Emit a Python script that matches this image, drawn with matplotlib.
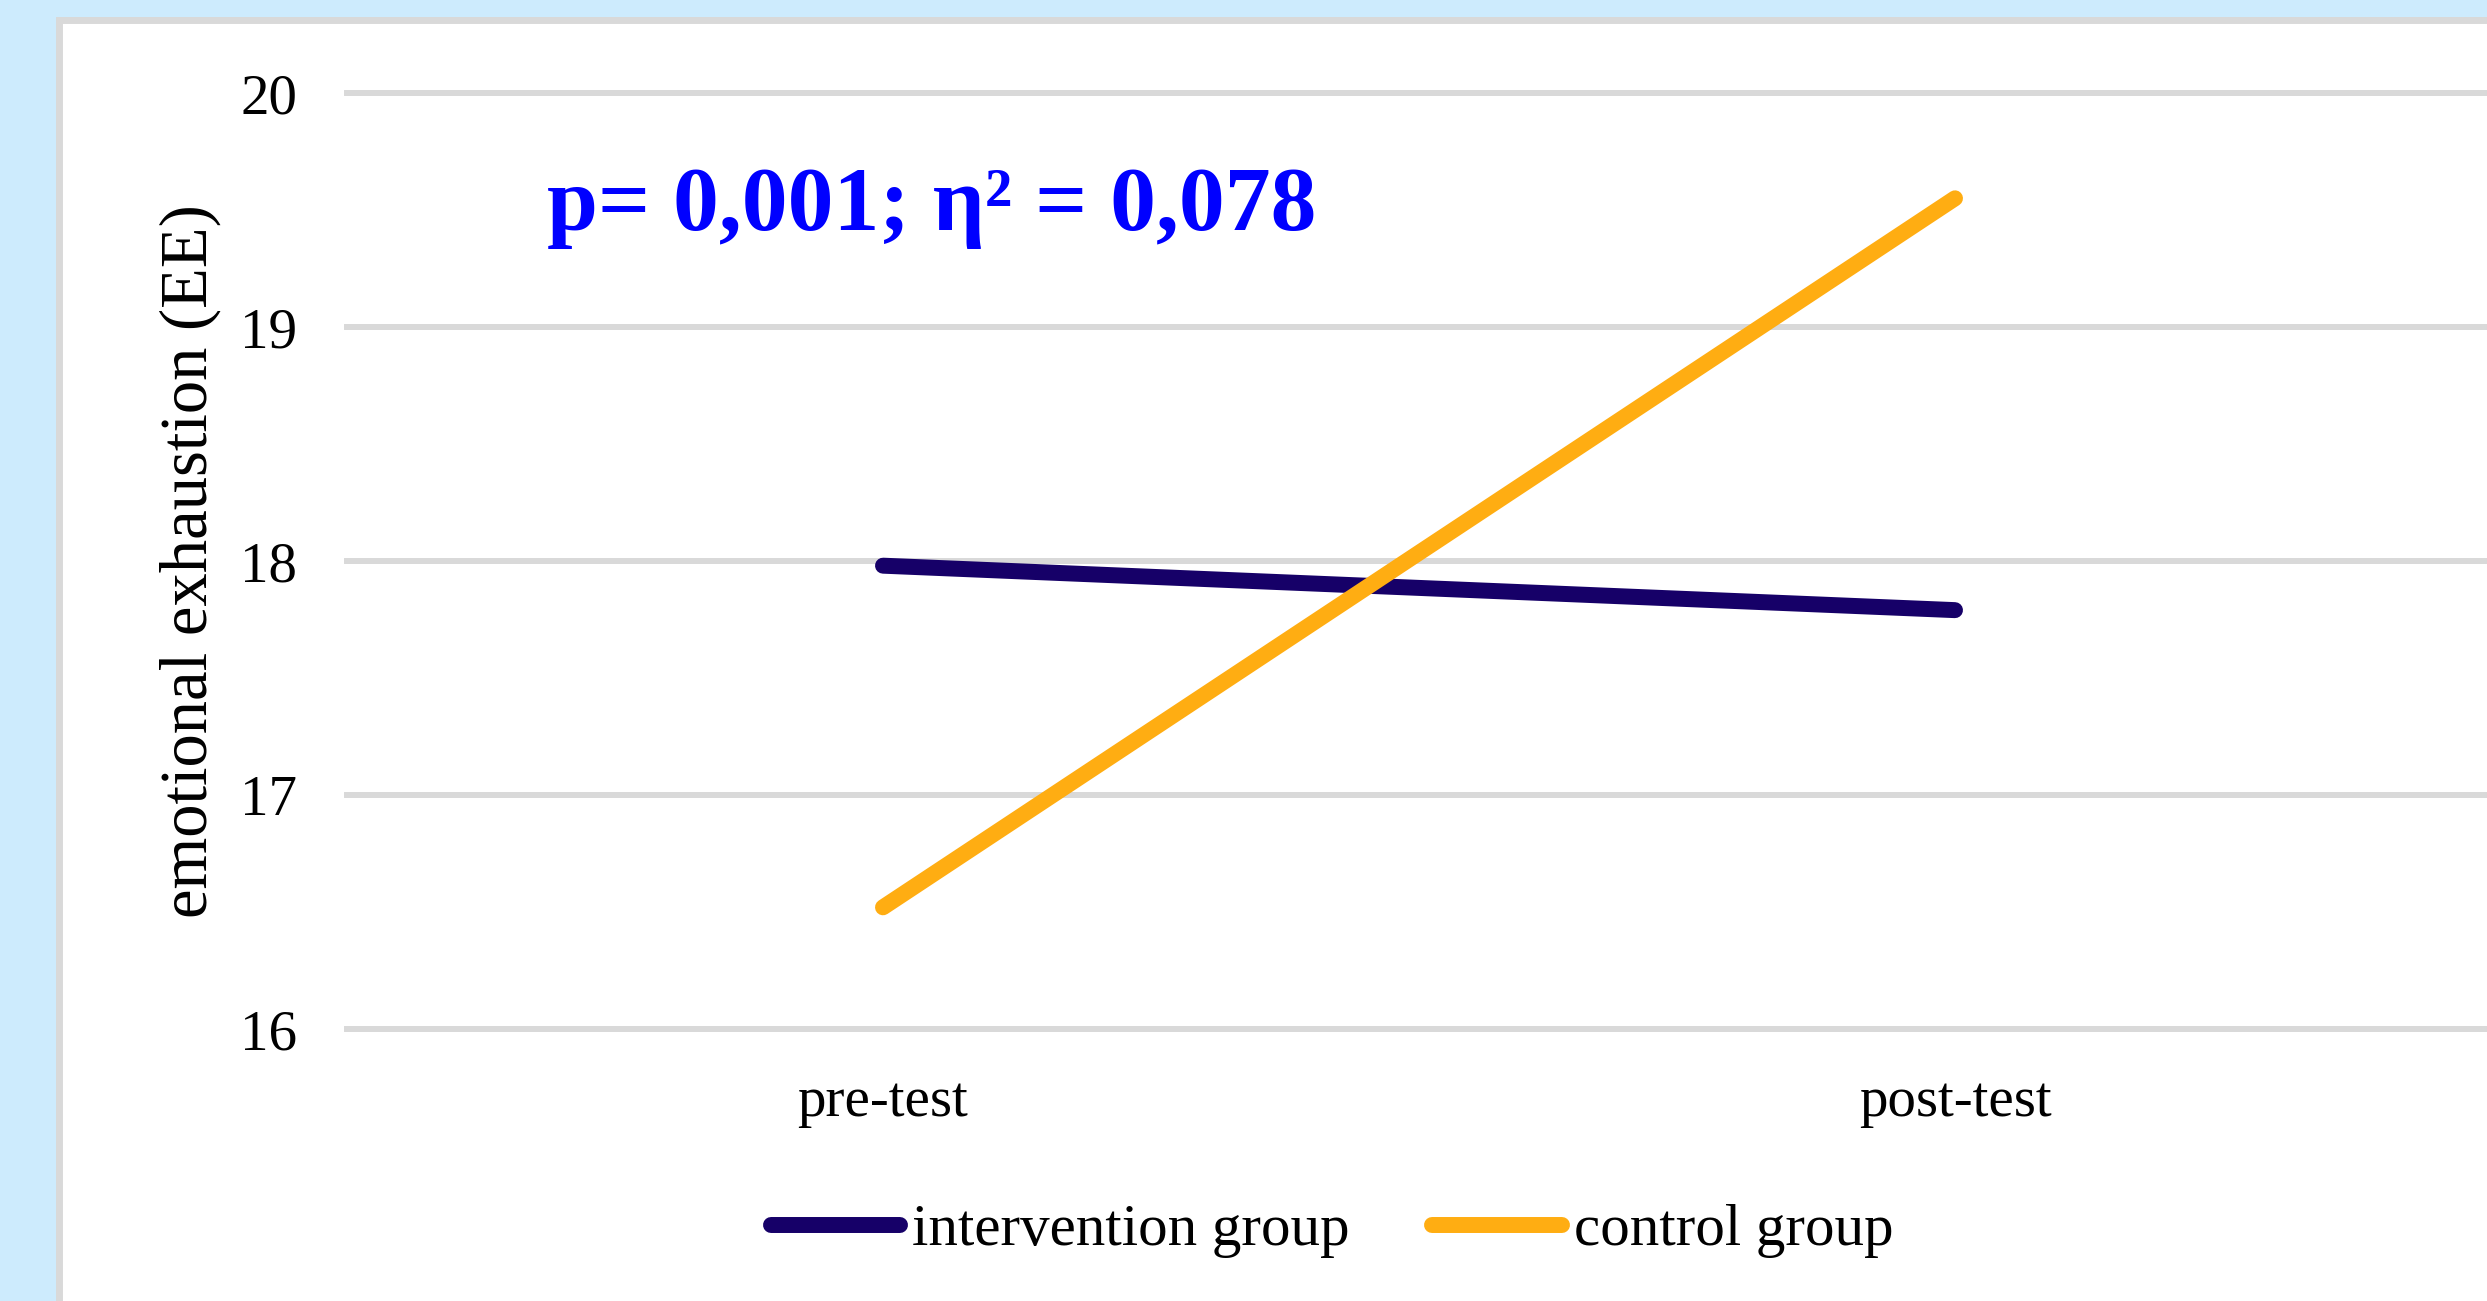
import matplotlib
matplotlib.use("Agg")
import matplotlib.pyplot as plt
from matplotlib.patches import Rectangle

# Data
phases = ["pre-test", "post-test"]
intervention = [17.98, 17.79]
control = [16.52, 19.55]
y_ticks = [16, 17, 18, 19, 20]
stats_text = "p= 0,001; η² = 0,078"

plt.rcParams['font.family'] = ['Liberation Serif', 'DejaVu Serif']

W, H = 2487, 1301
fig = plt.figure(figsize=(W / 100, H / 100), dpi=100)
fig.patch.set_facecolor('#cdebfd')

# white chart panel with grey border
panel = Rectangle((59 / W, -0.05), 1.1, 1 - 20 / H + 0.05, transform=fig.transFigure,
                  facecolor='white', edgecolor='#d9d9d9', linewidth=5, zorder=-5)
fig.patches.append(panel)

left, right = 347 / W, 2491 / W
bottom, top = 1 - 1029 / H, 1 - 93 / H
ax = fig.add_axes([left, bottom, right - left, top - bottom])
ax.set_facecolor('none')

x = list(range(len(phases)))
for t in y_ticks:
    ax.axhline(t, color='#d9d9d9', linewidth=4.3, clip_on=False, zorder=1)

ax.plot(x, intervention, color='#160068', linewidth=11.5, solid_capstyle='round',
        label='intervention group', zorder=3)
ax.plot(x, control, color='#ffad12', linewidth=11.5, solid_capstyle='round',
        label='control group', zorder=3)

ax.set_xlim(-0.5, 1.5)
ax.set_ylim(16, 20)
ax.set_xticks(x)
ax.set_xticklabels(phases)
ax.set_yticks(y_ticks)
ax.tick_params(axis='both', length=0, labelsize=41)
ax.tick_params(axis='y', pad=36)
ax.tick_params(axis='x', pad=34)
for s in ax.spines.values():
    s.set_visible(False)

fig.text(190 / W, 1 - 561 / H, "emotional exhaustion (EE)", rotation=90,
         ha='center', va='center', fontsize=48)

fig.text(547 / W, 1 - 230 / H, stats_text, color='#0000ff', fontsize=66,
         fontweight='bold', ha='left', va='baseline')

fig.legend(loc='center', bbox_to_anchor=(1332 / W, 1 - 1231 / H), ncol=2,
           frameon=False, fontsize=42.5, handlelength=2.2, handletextpad=0.2,
           columnspacing=1.4)

fig.savefig("out.png", dpi=100, facecolor=fig.get_facecolor())
